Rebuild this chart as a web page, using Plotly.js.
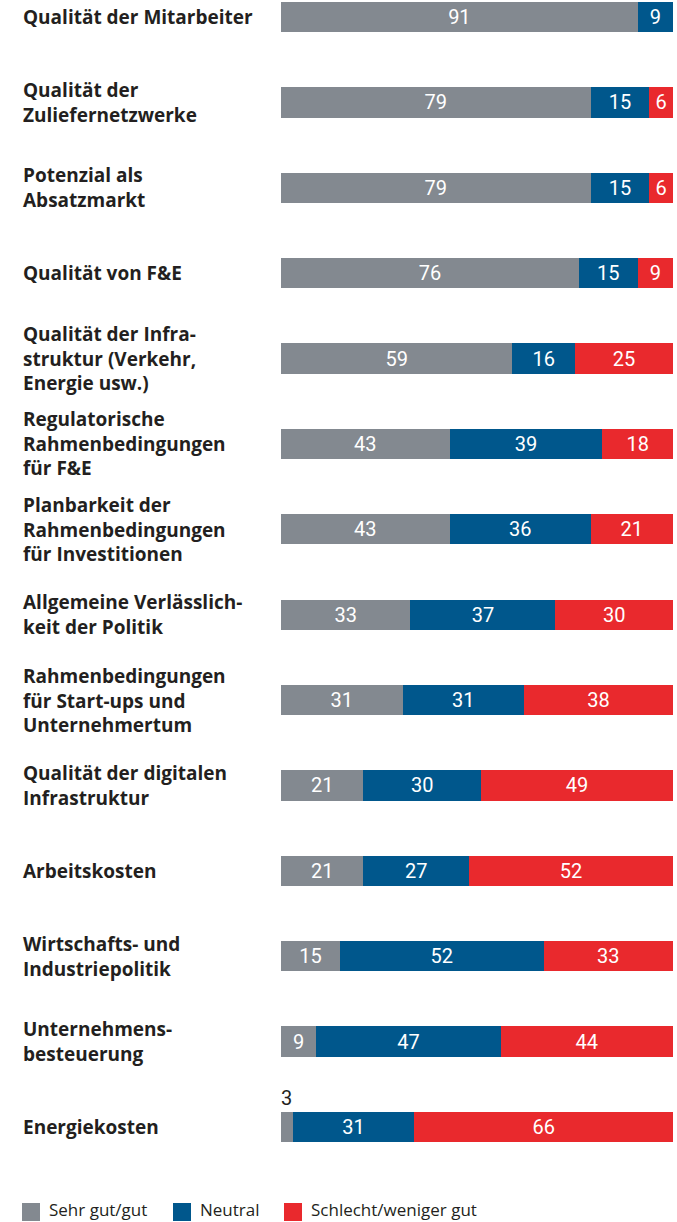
<!DOCTYPE html>
<html><head><meta charset="utf-8">
<script src="https://cdn.plot.ly/plotly-3.0.1.min.js"></script>
<style>html,body{margin:0;padding:0;background:#fff;}#chart{width:677px;height:1222px;}</style>
</head><body><div id="chart"></div>
<script>
const categories = [
  "Qualität der Mitarbeiter",
  "Qualität der<br>Zuliefernetzwerke",
  "Potenzial als<br>Absatzmarkt",
  "Qualität von F&E",
  "Qualität der Infra-<br>struktur (Verkehr,<br>Energie usw.)",
  "Regulatorische<br>Rahmenbedingungen<br>für F&E",
  "Planbarkeit der<br>Rahmenbedingungen<br>für Investitionen",
  "Allgemeine Verlässlich-<br>keit der Politik",
  "Rahmenbedingungen<br>für Start-ups und<br>Unternehmertum",
  "Qualität der digitalen<br>Infrastruktur",
  "Arbeitskosten",
  "Wirtschafts- und<br>Industriepolitik",
  "Unternehmens-<br>besteuerung",
  "Energiekosten"
];
const seriesNames = ["Sehr gut/gut", "Neutral", "Schlecht/weniger gut"];
const sehrGut  = [91, 79, 79, 76, 59, 43, 43, 33, 31, 21, 21, 15, 9, 3];
const neutral  = [9, 15, 15, 15, 16, 39, 36, 37, 31, 30, 27, 52, 47, 31];
const schlecht = [0, 6, 6, 9, 25, 18, 21, 30, 38, 49, 52, 33, 44, 66];

const colors = ["#838990", "#00578c", "#e9292d"];
const series = [sehrGut, neutral, schlecht];

const W = 677, H = 1222;
const mL = 281, mR = 4, mT = 0, mB = 57;
const plotW = W - mL - mR, plotH = H - mT - mB;
const pxX = px => (px - mL) / plotW;
const pxY = py => (H - mB - py) / plotH;

const minInside = 5;
const traces = series.map((vals, i) => ({
  type: "bar",
  orientation: "h",
  name: seriesNames[i],
  y: categories,
  x: vals,
  marker: {color: colors[i], line: {width: 0}},
  width: 0.355,
  text: vals.map(v => (v >= minInside ? String(v) : "")),
  textposition: "inside",
  insidetextanchor: "middle",
  textangle: 0,
  constraintext: "none",
  textfont: {family: "Roboto, sans-serif", size: 20, color: "#ffffff"},
  hoverinfo: "skip",
  showlegend: false
}));

const annotations = [];
categories.forEach((c, k) => {
  annotations.push({
    xref: "paper", yref: "y", x: pxX(21), y: c,
    xanchor: "left", yanchor: "middle", align: "left",
    text: c, showarrow: false,
    font: {family: "'Open Sans', sans-serif", size: 19, color: "#231f20", weight: 700}
  });
  let cum = 0;
  series.forEach((vals, i) => {
    const v = vals[k];
    if (v > 0 && v < minInside) {
      annotations.push({
        xref: "x", yref: "y", x: cum + v / 2, y: c,
        xanchor: "center", yanchor: "middle", yshift: 29,
        text: String(v), showarrow: false,
        font: {family: "Roboto, sans-serif", size: 20, color: "#231f20"}
      });
    }
    cum += v;
  });
});

const legendX = [22, 173, 284];
const shapes = [];
seriesNames.forEach((n, i) => {
  shapes.push({
    type: "rect", xref: "paper", yref: "paper",
    x0: pxX(legendX[i]), x1: pxX(legendX[i] + 18),
    y0: pxY(1221), y1: pxY(1203),
    fillcolor: colors[i], line: {width: 0}
  });
  annotations.push({
    xref: "paper", yref: "paper", x: pxX(legendX[i] + 26), y: pxY(1209),
    xanchor: "left", yanchor: "middle", text: n, showarrow: false, borderpad: 0,
    font: {family: "'Open Sans', sans-serif", size: 17, color: "#231f20"}
  });
});

const layout = {
  width: W, height: H,
  margin: {l: mL, r: mR, t: mT, b: mB, pad: 0},
  barmode: "stack",
  paper_bgcolor: "#ffffff", plot_bgcolor: "#ffffff",
  xaxis: {range: [0, 100], visible: false, fixedrange: true},
  yaxis: {type: "category", range: [13.445, -0.199], visible: false, fixedrange: true},
  annotations: annotations,
  shapes: shapes,
  showlegend: false
};

Plotly.newPlot("chart", traces, layout, {displayModeBar: false, staticPlot: true});
</script>
</body></html>
